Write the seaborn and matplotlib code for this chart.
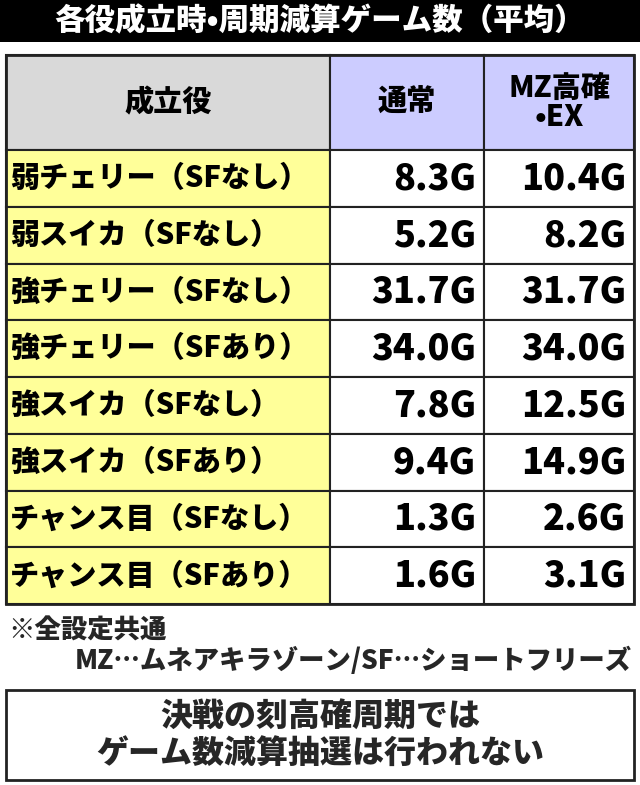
import matplotlib
matplotlib.use("Agg")
import matplotlib.pyplot as plt
import matplotlib.patches as mpatches
import seaborn as sns

sns.set_theme(style="white")
plt.rcParams['font.family'] = ['Noto Sans CJK JP', 'DejaVu Sans']

title = "各役成立時•周期減算ゲーム数（平均）"
headers = ["成立役", "通常", "MZ高確\n•EX"]
roles = ["弱チェリー（SFなし）", "弱スイカ（SFなし）", "強チェリー（SFなし）", "強チェリー（SFあり）",
         "強スイカ（SFなし）", "強スイカ（SFあり）", "チャンス目（SFなし）", "チャンス目（SFあり）"]
normal = [8.3, 5.2, 31.7, 34.0, 7.8, 9.4, 1.3, 1.6]
mz_ex = [10.4, 8.2, 31.7, 34.0, 12.5, 14.9, 2.6, 3.1]
note1 = "※全設定共通"
note2 = "MZ…ムネアキラゾーン/SF…ショートフリーズ"
box_text = "決戦の刻高確周期では\nゲーム数減算抽選は行われない"

fig = plt.figure(figsize=(6.4, 7.85), dpi=100)
ax = fig.add_axes([0, 0, 1, 1])
ax.set_xlim(0, 640)
ax.set_ylim(785, 0)
ax.axis("off")

def cell(x0, y0, w, h, color, text, ha="center", size=21):
    ax.add_patch(mpatches.Rectangle((x0, y0), w, h, facecolor=color, edgecolor="#222222", lw=1.5))
    if ha == "center":
        tx = x0 + w / 2
    elif ha == "left":
        tx = x0 + 4
    else:
        tx = x0 + w - 8
    ax.text(tx, y0 + h / 2, text, ha=ha, va="center", fontsize=size, fontweight="heavy",
            color="black", linespacing=1.0)

# title bar
ax.add_patch(mpatches.Rectangle((0, 0), 640, 42, facecolor="black", edgecolor="none"))
ax.text(320, 21, title, ha="center", va="center", color="white", fontsize=22, fontweight="heavy")

# table
cols = [6, 330, 484, 634]
top, head_h = 55, 95
row_h = (604 - top - head_h) / len(roles)
head_colors = ["#d9d9d9", "#ccccff", "#ccccff"]
for j, h in enumerate(headers):
    cell(cols[j], top, cols[j + 1] - cols[j], head_h, head_colors[j], h, size=21)
for i, r in enumerate(roles):
    y0 = top + head_h + i * row_h
    cell(cols[0], y0, cols[1] - cols[0], row_h, "#ffff99", r, ha="left", size=21)
    cell(cols[1], y0, cols[2] - cols[1], row_h, "white", f"{normal[i]:.1f}G", ha="right", size=26)
    cell(cols[2], y0, cols[3] - cols[2], row_h, "white", f"{mz_ex[i]:.1f}G", ha="right", size=26)
ax.add_patch(mpatches.Rectangle((cols[0], top), cols[3] - cols[0], 604 - top, facecolor="none",
                                edgecolor="#222222", lw=2))

# notes
ax.text(8, 630, note1, ha="left", va="center", fontsize=19, fontweight="heavy")
ax.text(632, 661, note2, ha="right", va="center", fontsize=19, fontweight="heavy")

# bottom box
ax.add_patch(mpatches.Rectangle((6, 690), 628, 90, facecolor="white", edgecolor="#222222", lw=2))
ax.text(320, 735, box_text, ha="center", va="center", fontsize=23, fontweight="heavy", linespacing=1.1)

fig.savefig("out.png", dpi=100)
